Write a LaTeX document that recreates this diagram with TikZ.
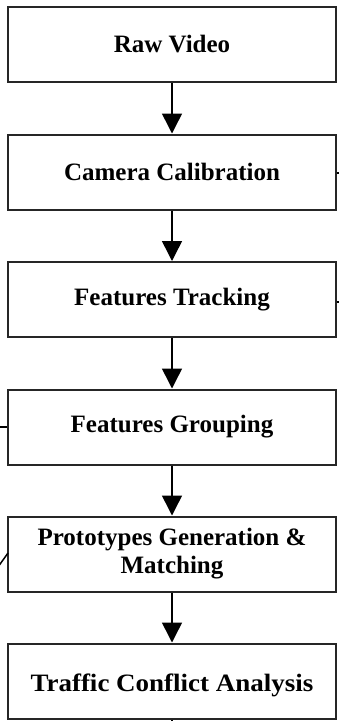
\documentclass[tikz,border=0pt]{standalone}
\usepackage{fontspec}
\setmainfont{Liberation Serif}
\usetikzlibrary{arrows.meta}
\begin{document}
\begin{tikzpicture}[x=1pt,y=-1pt,
  stepbox/.style={draw=black!85, line width=2pt, fill=white, minimum width=328pt, minimum height=75pt,
    inner sep=0pt, align=center, font=\fontsize{25}{28}\selectfont\bfseries},
  flow/.style={line width=1.5pt, -{Triangle[width=20pt,length=20pt]}},
  stub/.style={line width=1.5pt}]
\useasboundingbox (0,0) rectangle (338,721);
\node[stepbox] (raw) at (172,44.5) {Raw Video};
\node[stepbox] (cal) at (172,172) {Camera Calibration};
\node[stepbox] (trk) at (172,299.5) {Features Tracking};
\node[stepbox] (grp) at (172,427) {Features Grouping};
\node[stepbox] (pro) at (172,554) {Prototypes Generation \&\\Matching};
\node[stepbox, text height=27pt, text depth=6pt] (tca) at (172,681) {\scalebox{1.08}[1]{Traffic Conflict Analysis}};
\draw[flow] (raw) -- (cal);
\draw[flow] (cal) -- (trk);
\draw[flow] (trk) -- (grp);
\draw[flow] (grp) -- (pro);
\draw[flow] (pro) -- (tca);
\coordinate (r1) at (340,173);
\coordinate (r2) at (340,302);
\coordinate (l1) at (-2,427);
\coordinate (l2) at (-2,567);
\coordinate (l2e) at (8,553);
\coordinate (b1) at (172,723);
\draw[stub] (cal.east |- r1) -- (r1);
\draw[stub] (trk.east |- r2) -- (r2);
\draw[stub] (l1) -- (grp.west |- l1);
\draw[stub] (l2) -- (l2e);
\draw[stub] (tca.south) -- (b1);
\end{tikzpicture}
\end{document}
